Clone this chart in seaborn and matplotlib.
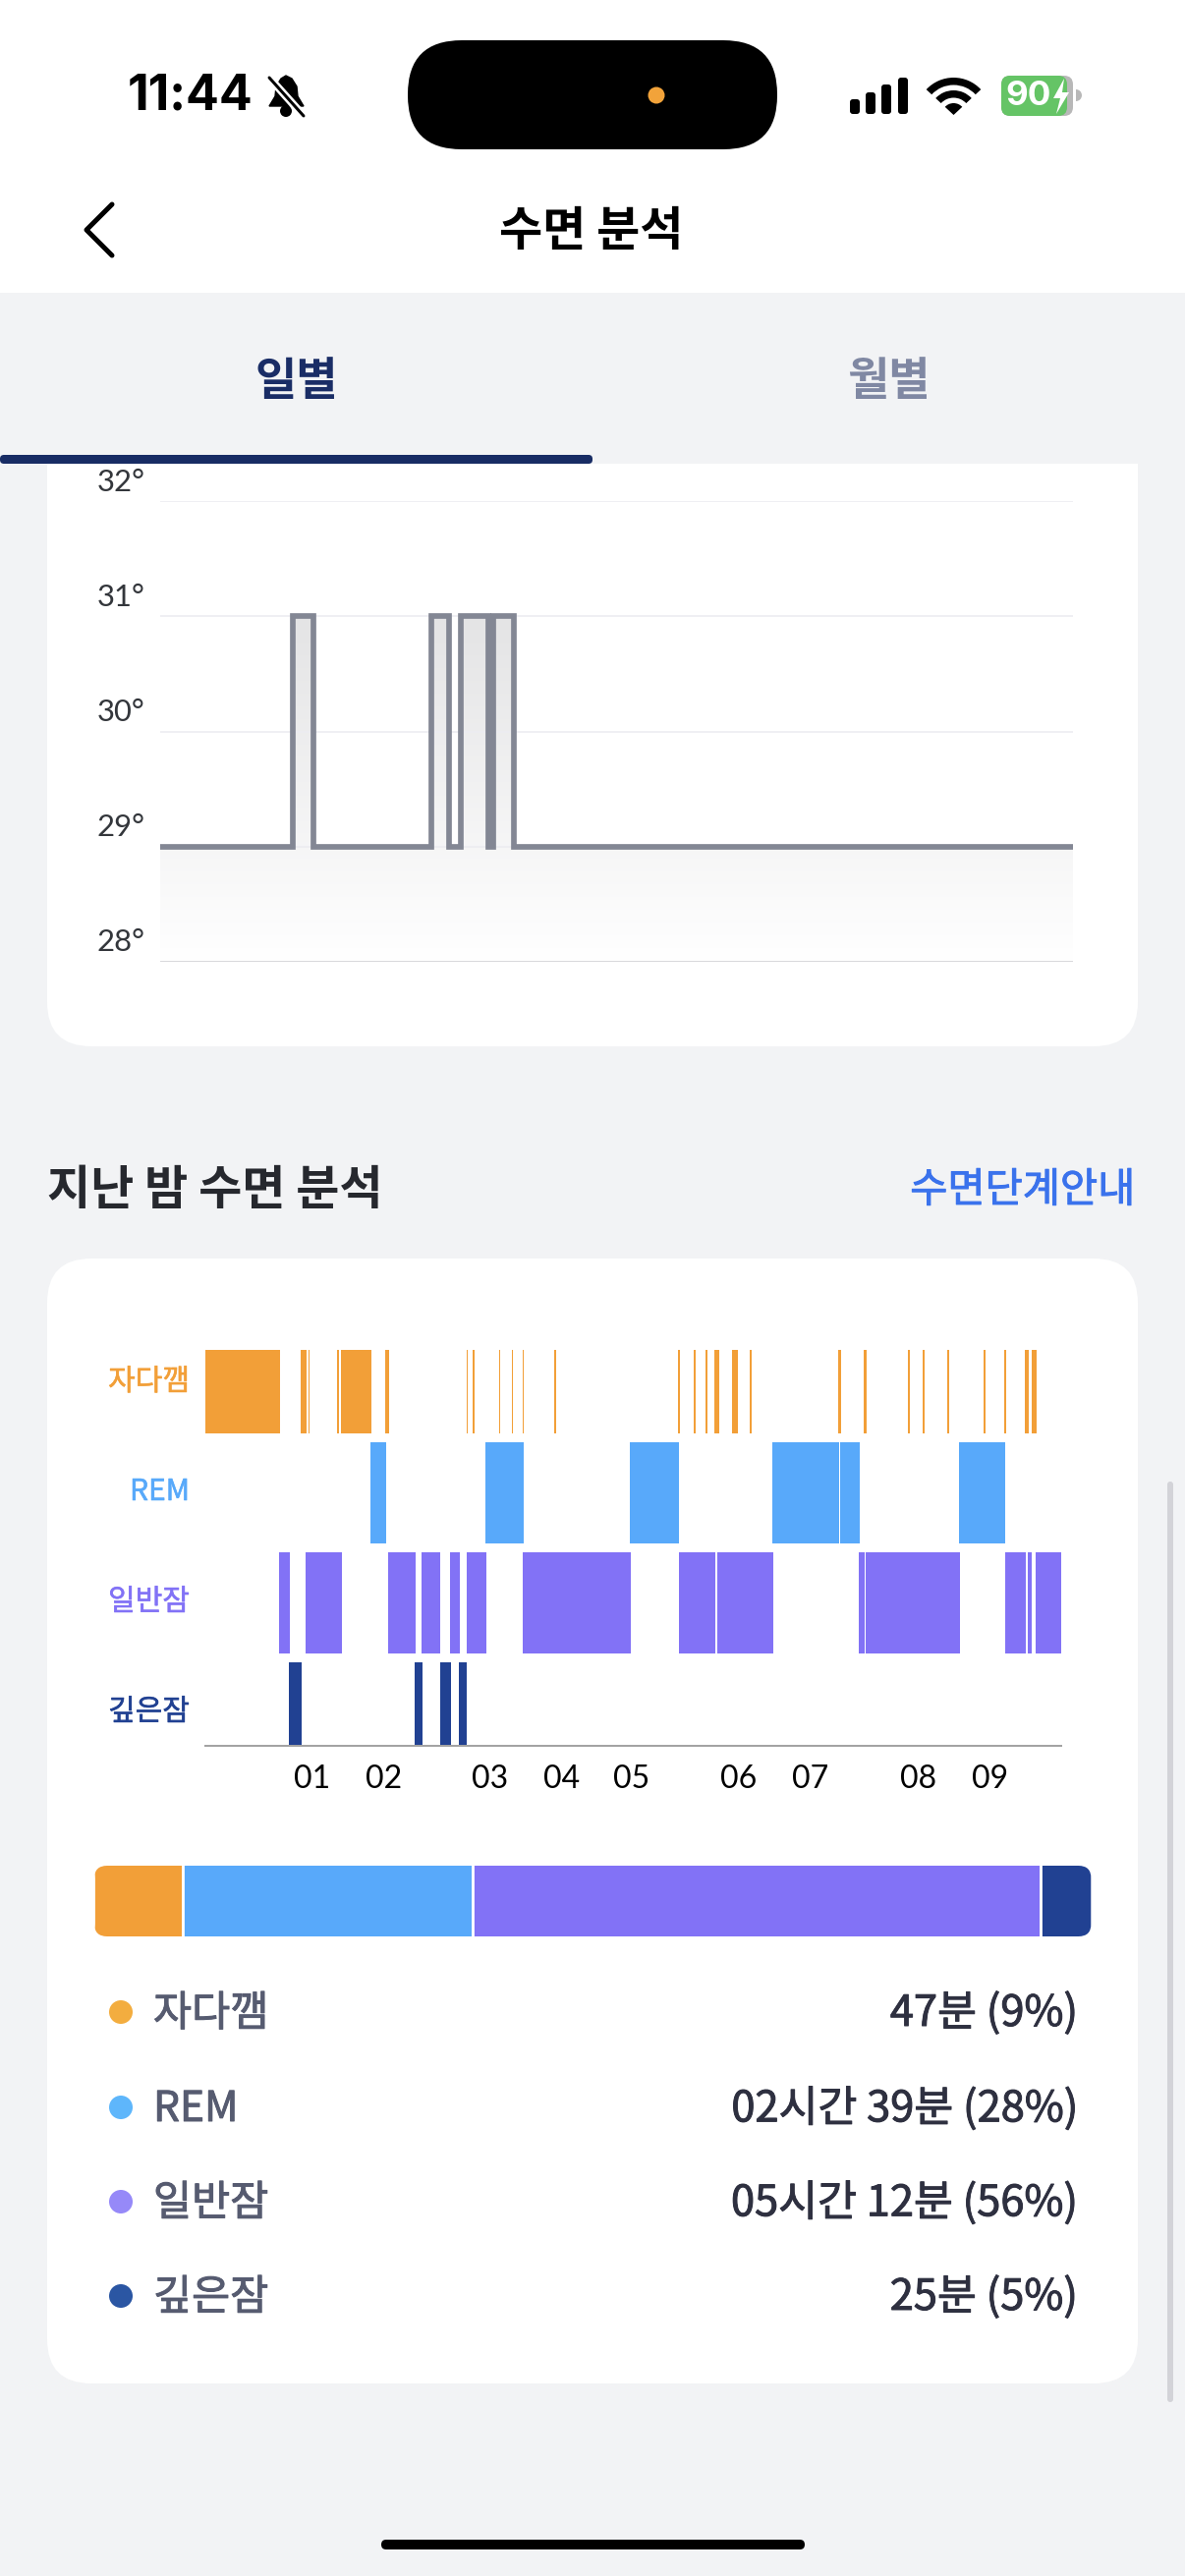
import numpy as np
import pandas as pd
import seaborn as sns
import matplotlib.pyplot as plt
import matplotlib.patheffects as pe
from matplotlib.colors import LinearSegmentedColormap
from matplotlib.patches import FancyBboxPatch, Rectangle, Circle, Ellipse, Wedge, Polygon, PathPatch
from matplotlib.path import Path
from matplotlib.transforms import ScaledTranslation

W, H = 1206, 2622

# temperature chart (x is minutes since going to bed, steps-post)
temp_x = [0, 79.3, 91.6, 161.9, 172.4, 179.4, 195.5, 198.4, 210.5, 543]
temp_y = [29, 31, 29, 31, 29, 31, 29, 31, 29, 29]
temp_ticks = [28, 29, 30, 31, 32]
temp_labels = ["28°", "29°", "30°", "31°", "32°"]

# sleep stages, (start, end) in minutes
awake = [(0, 47.4), (60.6, 64.3), (65.4, 66.0), (83.5, 84.8), (86.1, 105.4), (114.2, 116.6),
         (165.9, 166.4), (169.7, 170.7), (186.1, 187.1), (194.6, 195.3), (201.4, 202.0),
         (221.3, 222.6), (299.9, 301.2), (309.9, 311.1), (317.4, 318.6), (323.0, 326.1),
         (334.2, 337.9), (345.4, 346.7), (401.5, 403.4), (417.8, 419.4), (445.8, 447.0),
         (455.2, 456.4), (470.8, 472.0), (493.8, 495.0), (507.0, 508.1), (520.0, 522.5),
         (524.4, 527.5)]
rem = [(104.7, 114.8), (177.7, 202.0), (269.4, 300.6), (359.8, 402.2), (402.8, 415.3), (478.2, 507.5)]
light = [(46.8, 53.6), (63.6, 86.8), (116.1, 133.4), (137.1, 149.1), (155.3, 161.6), (165.9, 178.4),
         (201.4, 270.0), (300.6, 323.6), (324.9, 360.4), (414.7, 418.4), (419.0, 478.8),
         (507.5, 520.6), (521.9, 524.4), (526.9, 542.9)]
deep = [(53.1, 61.2), (133.0, 137.8), (149.1, 155.9), (161.0, 165.9)]

hour_ticks = [67.4, 113.0, 180.6, 226.1, 270.6, 338.5, 384.1, 452.1, 497.6]
hour_labels = ["01", "02", "03", "04", "05", "06", "07", "08", "09"]

stage_names = ["자다깸", "REM", "일반잠", "깊은잠"]
stage_pct = [8.9, 28.8, 56.5, 5.0]
stage_values = ["47분 (9%)", "02시간 39분 (28%)", "05시간 12분 (56%)", "25분 (5%)"]

stage_colors = ["#f29f38", "#58a9fa", "#8272f6", "#214192"]
dot_colors = ["#f3ad3f", "#5eb6fb", "#9689f8", "#2b56a3"]

sns.set_theme(style="white")
plt.rcParams["font.family"] = ["Noto Sans CJK KR", "DejaVu Sans"]

fig = plt.figure(figsize=(W / 100, H / 100), dpi=100, facecolor="#f2f3f5")


def px(size):
    # pixels to points
    return size * 72 / 100


def ax_px(x0, y0, x1, y1):
    a = fig.add_axes([x0 / W, 1 - y1 / H, (x1 - x0) / W, (y1 - y0) / H], zorder=2)
    a.patch.set_alpha(0)
    return a


def medium(color, w=0.7):
    # only regular and bold faces exist, thicken a bit
    return [pe.withStroke(linewidth=w, foreground=color)]


ui = fig.add_axes([0, 0, 1, 1], zorder=0)
ui.set_xlim(0, W)
ui.set_ylim(H, 0)
ui.axis("off")


def card(x0, y0, x1, y1, r, color, z=1):
    p = FancyBboxPatch((x0, y0), x1 - x0, y1 - y0, boxstyle=f"round,pad=0,rounding_size={r}",
                       fc=color, ec="none", zorder=z)
    ui.add_patch(p)
    return p


# cards first, tab bar goes over the top one
card(48, 380, 1158, 1065, 45, "white")
card(48, 1281, 1158, 2426, 45, "white")
ui.add_patch(Rectangle((0, 298), W, 174, fc="#f2f3f5", ec="none", zorder=2))
ui.add_patch(Rectangle((0, 0), W, 298, fc="white", ec="none", zorder=2))
card(0, 463, 603, 472, 4, "#182c64", z=3)

# status bar
card(415, 41, 791, 152, 55, "black", z=3)
ui.add_patch(Ellipse((668, 97), 17, 17, fc="#f2a33a", ec="none", zorder=4))
ui.text(194, 98, "11:44", family="Inter", fontsize=px(50), fontweight="bold", color="black",
        ha="center", va="center", zorder=4)
bell = Polygon([(274, 108), (280, 98), (281, 88), (286, 80), (291, 77), (297, 80), (302, 88), (303, 98), (309, 108)],
               closed=True, fc="black", ec="black", lw=1, zorder=4)
ui.add_patch(bell)
ui.add_patch(Circle((291, 113), 6, fc="black", ec="none", zorder=4))
ui.plot([274, 309], [79, 118], color="white", lw=px(8), zorder=4)
ui.plot([274, 309], [79, 118], color="black", lw=px(3), zorder=5)
for bx, bh in zip([865, 881, 897, 914], [15, 22, 30, 37]):
    card(bx, 116 - bh, bx + 10, 116, 3, "black", z=4)
for r in [38, 25]:
    ui.add_patch(Wedge((970.5, 117), r, 223, 317, width=7.5, fc="black", ec="none", zorder=4))
ui.add_patch(Wedge((970.5, 117), 12, 223, 317, fc="black", ec="none", zorder=4))
card(1019, 77, 1092, 118, 9, "#b8b8b8", z=4)
card(1019, 77, 1086, 118, 9, "#65c466", z=4)
ui.add_patch(Wedge((1095, 97), 6, 270, 90, fc="#b8b8b8", ec="none", zorder=4))
ui.text(1047, 98, "90", family="Inter", fontsize=px(35), fontweight="bold", color="white",
        ha="center", va="center", zorder=5)
ui.add_patch(Polygon([(1083, 80), (1072, 100), (1079, 100), (1075, 116), (1088, 94), (1081, 94)],
                     closed=True, fc="white", ec="none", zorder=5))

# nav bar
ui.plot([114, 88, 114], [208, 234, 260], color="black", lw=px(5), solid_capstyle="round",
        solid_joinstyle="round", zorder=4)
ui.text(601.5, 235, "수면 분석", fontsize=px(48), fontweight="bold", color="black",
        ha="center", va="center", zorder=4)
ui.text(301.5, 388, "일별", fontsize=px(46), fontweight="bold", color="#1a2d66",
        ha="center", va="center", zorder=4)
ui.text(904, 388, "월별", fontsize=px(46), fontweight="bold", color="#8088a3",
        ha="center", va="center", zorder=4)

# temperature chart
ax = ax_px(162.5, 510, 1091.5, 979)
sns.lineplot(x=temp_x, y=temp_y, drawstyle="steps-post", estimator=None, sort=False, color="#838794",
             lw=px(5.7), solid_joinstyle="miter", solid_capstyle="butt", ax=ax, zorder=4)
verts = [(temp_x[0], 28), (temp_x[0], temp_y[0])]
for i in range(1, len(temp_x)):
    verts += [(temp_x[i], temp_y[i - 1]), (temp_x[i], temp_y[i])]
verts.append((temp_x[-1], 28))
shape = PathPatch(Path(verts + [verts[0]]), fc="none", ec="none", transform=ax.transData)
ax.add_patch(shape)
fade = LinearSegmentedColormap.from_list("fade", ["#e4e4e5", "#ffffff"])
im = ax.imshow(np.linspace(0, 1, 256).reshape(-1, 1), extent=[0, 543, 28, 31], aspect="auto",
               cmap=fade, origin="upper", zorder=1)
im.set_clip_path(shape)
ax.set_xlim(0, 543)
ax.set_ylim(28, 32)
ax.set_xlabel("")
ax.set_ylabel("")
ax.set_xticks([])
ax.set_yticks(temp_ticks, temp_labels, family="Lato", fontsize=px(31), color="#33363b")
ax.tick_params(axis="y", length=0, pad=px(15))
ax.grid(axis="y", color="#ececf1", lw=px(1.6), zorder=2)
ax.set_axisbelow(False)
for s in ax.spines.values():
    s.set_visible(False)
ax.axhline(28, color="#d8d8dc", lw=px(3), zorder=3)
lift = ScaledTranslation(0, 22 / 100, fig.dpi_scale_trans)
for t in ax.get_yticklabels():
    t.set_transform(t.get_transform() + lift)

# section heading
ui.text(48.5, 1211, "지난 밤 수면 분석", fontsize=px(48), fontweight="bold", color="#26282e",
        ha="left", va="center", zorder=3)
ui.text(1155, 1212, "수면단계안내", fontsize=px(41.5), color="#3a72ec", ha="right", va="center", zorder=3,
        path_effects=medium("#3a72ec"))

# sleep stage chart, y is px-like below the top of the first row
ax2 = ax_px(209, 1374, 1080, 1777)
row_spans = [(0, 85), (94, 103), (206, 103), (318, 85)]
label_y = [29, 141, 253, 365]
for segs, span, c in zip([awake, rem, light, deep], row_spans, stage_colors):
    ax2.broken_barh([(a, b - a) for a, b in segs], span, facecolors=c, edgecolor="none")
ax2.set_xlim(0, 543)
ax2.set_ylim(403, 0)
ax2.set_xticks(hour_ticks, hour_labels, family="Lato", fontsize=px(32), color="black")
ax2.set_yticks(label_y, stage_names, fontsize=px(30))
ax2.tick_params(axis="x", length=0, pad=px(18.5))
ax2.tick_params(axis="y", length=0, pad=px(16))
for t, c in zip(ax2.get_yticklabels(), stage_colors):
    t.set_color(c)
    t.set_path_effects(medium(c, 0.4))
sns.despine(ax=ax2, left=True)
ax2.spines["bottom"].set_color("#a3a3a3")
ax2.spines["bottom"].set_linewidth(px(2))

# stacked share bar
ax3 = ax_px(96, 1899, 1110.5, 1971)
share = pd.DataFrame({"row": [0, 0, 0, 0], "stage": stage_names, "pct": stage_pct})
sns.histplot(data=share, y="row", hue="stage", weights="pct", multiple="stack", discrete=True,
             hue_order=stage_names[::-1], palette=dict(zip(stage_names, stage_colors)),
             alpha=1, edgecolor="white", linewidth=px(2.8), legend=False, ax=ax3)
ax3.set_xlim(0.13, sum(stage_pct))
ax3.set_ylim(-0.45, 0.45)
ax3.axis("off")
clip = FancyBboxPatch((96, 1899), 1014.5, 72, boxstyle="round,pad=0,rounding_size=13", fc="none", ec="none")
ui.add_patch(clip)
for b in ax3.patches:
    b.set_clip_path(clip)

# legend rows
for name, val, c, y in zip(stage_names, stage_values, dot_colors, [2048, 2145, 2241, 2337]):
    ui.add_patch(Circle((123, y), 12, fc=c, ec="none", zorder=3))
    ui.text(156, y + 2, name, fontsize=px(42.5), color="#565b70", ha="left", va="center", zorder=3,
            path_effects=medium("#565b70"))
    ui.text(1097, y + 2, val, fontsize=px(43.4), color="#2e3040", ha="right", va="center", zorder=3,
            path_effects=medium("#2e3040"))

# scrollbar + home indicator
card(1188, 1508, 1194, 2445, 3, "#d3d3d8", z=3)
card(388, 2585, 819, 2595, 5, "black", z=3)

fig.savefig("out.png", dpi=100, facecolor=fig.get_facecolor())
